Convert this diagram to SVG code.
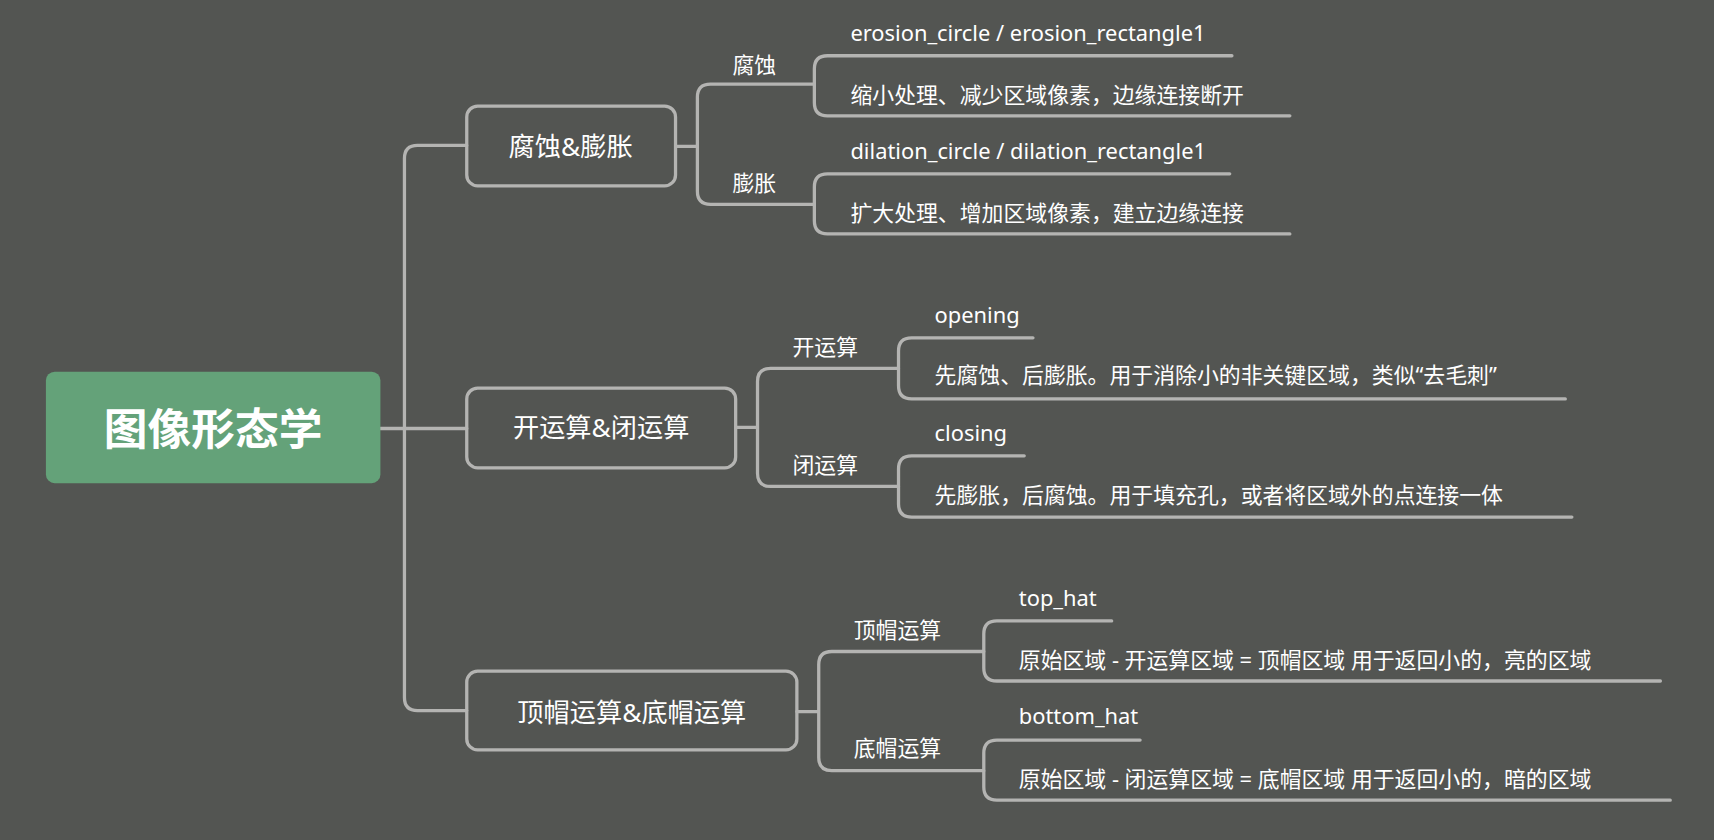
<svg xmlns="http://www.w3.org/2000/svg" width="1714" height="840" viewBox="0 0 1714 840">
<style>
.ln{fill:none;stroke:#b4b4b2;stroke-width:3;stroke-linecap:round}
.bx{fill:none;stroke:#b4b4b2;stroke-width:3}
text{font-family:"Noto Sans","Noto Sans CJK SC",sans-serif;fill:#ffffff;dominant-baseline:central}
.t{font-size:20px}
.b{font-size:24px;text-anchor:middle}
</style>
<rect width="1714" height="840" fill="#535552"/>
<g transform="scale(1.0931)">
<g id="connectors">
<path class="ln" d="M348,392H370M370,392V145Q370,133 382,133H427M370,392V638Q370,650 382,650H427M370,392H427"/>
<path class="ln" d="M618,134H638M638,134V89Q638,77 650,77H745M638,134V175Q638,187 650,187H745"/>
<path class="ln" d="M745,77V63Q745,51 757,51H1127M745,77V94Q745,106 757,106H1180"/>
<path class="ln" d="M745,187V171Q745,159 757,159H1125M745,187V202Q745,214 757,214H1180"/>
<path class="ln" d="M673,391H693M693,391V349Q693,337 705,337H822M693,391V433Q693,445 705,445H822"/>
<path class="ln" d="M822,337V321Q822,309 834,309H945M822,337V353Q822,365 834,365H1432"/>
<path class="ln" d="M822,445V429Q822,417 834,417H937M822,445V461Q822,473 834,473H1438"/>
<path class="ln" d="M729,651H749M749,651V608Q749,596 761,596H900M749,651V693Q749,705 761,705H900"/>
<path class="ln" d="M900,596V580Q900,568 912,568H1017M900,596V611Q900,623 912,623H1519"/>
<path class="ln" d="M900,705V689Q900,677 912,677H1043M900,705V720Q900,732 912,732H1528"/>
</g>
<g id="root"><rect x="42" y="340" width="306" height="102" rx="8" fill="#64a279"/>
<text x="195" y="392" style="font-size:40px;font-weight:bold;text-anchor:middle">图像形态学</text></g>
<g id="n1"><rect class="bx" x="427" y="97" width="191" height="73" rx="10"/><text class="b" x="522" y="134">腐蚀&amp;膨胀</text></g>
<g id="n2"><rect class="bx" x="427" y="355" width="246" height="73" rx="10"/><text class="b" x="550" y="391">开运算&amp;闭运算</text></g>
<g id="n3"><rect class="bx" x="427" y="614" width="302" height="72" rx="10"/><text class="b" x="578" y="651">顶帽运算&amp;底帽运算</text></g>
<g id="labels" class="t">
<text class="t" x="670" y="59">腐蚀</text>
<text class="t" x="670" y="167">膨胀</text>
<text class="t" x="778" y="30">erosion_circle / erosion_rectangle1</text>
<text class="t" x="778" y="86">缩小处理、减少区域像素，边缘连接断开</text>
<text class="t" x="778" y="138">dilation_circle / dilation_rectangle1</text>
<text class="t" x="778" y="194">扩大处理、增加区域像素，建立边缘连接</text>
<text class="t" x="725" y="317">开运算</text>
<text class="t" x="725" y="425">闭运算</text>
<text class="t" x="855" y="288">opening</text>
<text class="t" x="855" y="343">先腐蚀、后膨胀。用于消除小的非关键区域，类似“去毛刺”</text>
<text class="t" x="855" y="396">closing</text>
<text class="t" x="855" y="452">先膨胀，后腐蚀。用于填充孔，或者将区域外的点连接一体</text>
<text class="t" x="781" y="576">顶帽运算</text>
<text class="t" x="781" y="684">底帽运算</text>
<text class="t" x="932" y="547">top_hat</text>
<text class="t" x="932" y="603">原始区域 - 开运算区域 = 顶帽区域  用于返回小的，亮的区域</text>
<text class="t" x="932" y="655">bottom_hat</text>
<text class="t" x="932" y="712">原始区域 - 闭运算区域 = 底帽区域  用于返回小的，暗的区域</text>
</g>
</g>
</svg>
